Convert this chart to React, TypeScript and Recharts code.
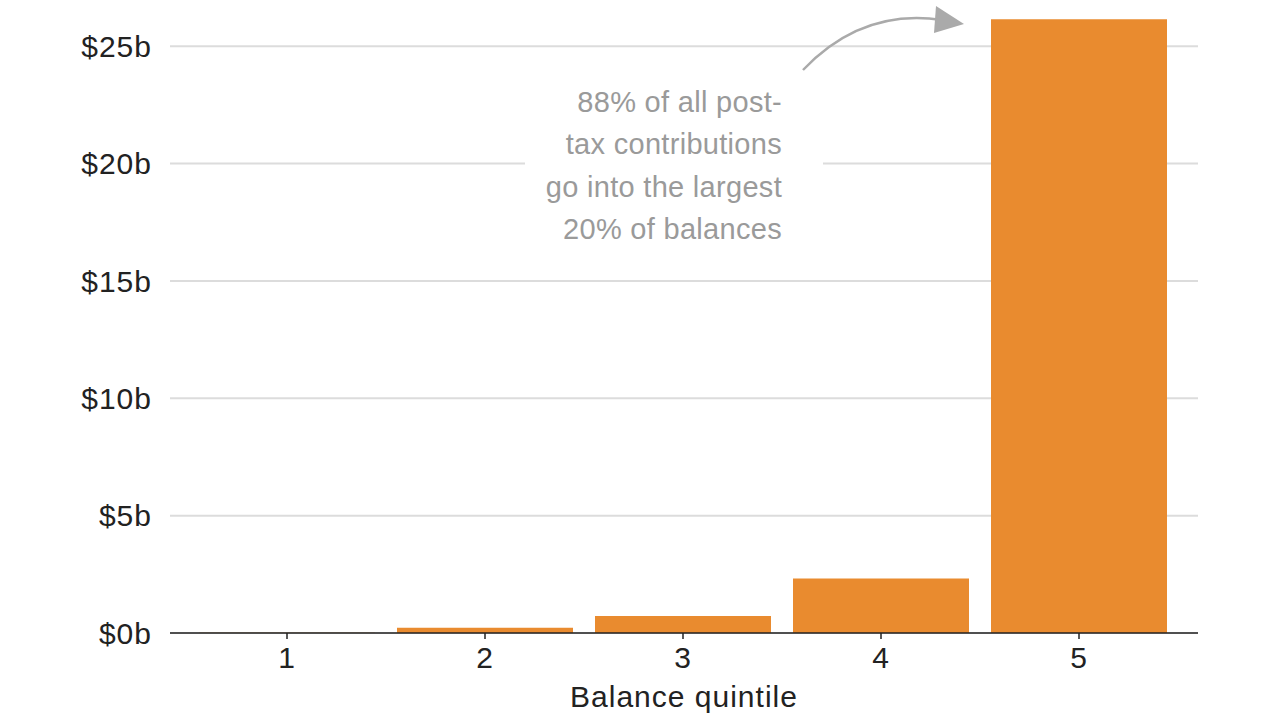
import { Bar, BarChart, CartesianGrid, Customized, Label, XAxis, YAxis } from "recharts";

const quintiles = ["1", "2", "3", "4", "5"];
const contributions = [0.01, 0.22, 0.72, 2.32, 26.15];
const yTicks = [0, 5, 10, 15, 20, 25];
const noteLines = [
  "88% of all post-",
  "tax contributions",
  "go into the largest",
  "20% of balances",
];

const data = quintiles.map((q, i) => ({ name: q, value: contributions[i] }));

const FONT = "'Liberation Sans', Arial, sans-serif";
const tickStyle = { fill: "#222", fontSize: 30, fontFamily: FONT, letterSpacing: 1 };

function Note() {
  return (
    <g>
      <rect x={525} y={80} width={298} height={170} fill="#fff" />
      {noteLines.map((t, i) => (
        <text
          key={i}
          x={782}
          y={112 + i * 42.3}
          textAnchor="end"
          fontSize={29}
          letterSpacing={0.3}
          fontFamily={FONT}
          fill="#9a9a9a"
        >
          {t}
        </text>
      ))}
      <path d="M 803 70 Q 862 8 942 20" fill="none" stroke="#aaa" strokeWidth={2.5} />
      <path d="M 936 6 L 964 24 L 934 33 Z" fill="#aaa" />
    </g>
  );
}

export default function App() {
  return (
    <div style={{ position: "absolute", left: 0, top: 0, background: "#fff" }}>
      <BarChart
        width={1280}
        height={720}
        data={data}
        margin={{ top: 18, right: 82, bottom: 0, left: 0 }}
        barCategoryGap={11}
      >
        <CartesianGrid
          horizontal
          vertical={false}
          horizontalValues={yTicks}
          stroke="#dcdcdc"
          strokeWidth={2}
        />
        <XAxis
          dataKey="name"
          height={87}
          padding={{ left: 18, right: 20 }}
          stroke="#222"
          strokeWidth={1.5}
          tickSize={6}
          tickMargin={8}
          tick={tickStyle}
        >
          <Label
            value="Balance quintile"
            position="insideBottom"
            offset={13}
            fill="#222"
            fontSize={30}
            letterSpacing={1}
            fontFamily={FONT}
          />
        </XAxis>
        <YAxis
          width={170}
          domain={[0, 26.2]}
          ticks={yTicks}
          tickFormatter={(v) => `$${v}b`}
          axisLine={false}
          tickLine={false}
          tickSize={0}
          tickMargin={18}
          tick={tickStyle}
        />
        <Bar dataKey="value" fill="#e98b2f" isAnimationActive={false} />
        <Customized component={Note} />
      </BarChart>
    </div>
  );
}
